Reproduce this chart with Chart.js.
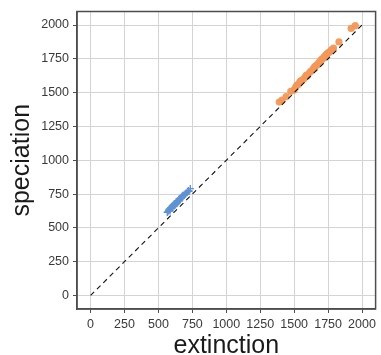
<!DOCTYPE html>
<html>
<head>
<meta charset="utf-8">
<script src="https://cdn.jsdelivr.net/npm/chart.js@4.4.0/dist/chart.umd.min.js"></script>
<style>
  html, body { margin: 0; padding: 0; background: #ffffff; }
  #wrap { width: 381px; height: 355px; }
</style>
</head>
<body>
<div id="wrap"><canvas id="grafico"></canvas></div>
<script>
// clado A (naranja): extincion / especiacion
let naranja_x = [1390, 1410, 1440, 1475, 1500, 1510, 1520, 1530, 1540, 1545, 1555, 1570, 1580, 1590, 1590, 1600,
    1615, 1625, 1640, 1650, 1650, 1660, 1670, 1680, 1690, 1700, 1700, 1710, 1720, 1730, 1735, 1740, 1750,
    1760, 1770, 1780, 1790, 1830, 1920, 1950]
let naranja_y = [1430, 1445, 1470, 1510, 1520, 1540, 1555, 1560, 1575, 1585, 1590, 1600, 1615, 1625, 1630, 1630,
    1650, 1660, 1675, 1690, 1680, 1700, 1705, 1720, 1730, 1745, 1740, 1750, 1765, 1770, 1780, 1785, 1795,
    1800, 1810, 1820, 1830, 1875, 1975, 1995]

// clado B (azul)
let azul_x = [565, 570, 575, 580, 585, 590, 595, 600, 605, 605, 615, 615, 620, 625, 630, 640, 640, 645,
    650, 655, 655, 660, 665, 670, 675, 680, 690, 690, 700, 700, 710, 720, 725, 735]
let azul_y = [615, 620, 630, 640, 625, 650, 645, 655, 665, 650, 675, 660, 680, 670, 690, 700, 685, 695,
    705, 715, 700, 710, 720, 730, 735, 740, 745, 740, 755, 750, 760, 775, 770, 790]

let marcas = [0, 250, 500, 750, 1000, 1250, 1500, 1750, 2000]
let diagonal = [0, 2000]

const juntar = (xs, ys) => xs.map((v, i) => ({x: v, y: ys[i]}))

// recuadro del panel (bordes superior y derecho incluidos)
const marco = {
    id: 'marco',
    afterDraw(chart) {
        const a = chart.chartArea
        const ctx = chart.ctx
        ctx.save()
        ctx.strokeStyle = '#4d4d4d'
        ctx.lineWidth = 1.5
        ctx.strokeRect(a.left, a.top, a.right - a.left, a.bottom - a.top)
        ctx.restore()
    }
}

function eje(titulo, ancho, relleno) {
    return {
        type: 'linear',
        min: -100,
        max: 2100,
        afterBuildTicks: (s) => { s.ticks = marcas.map(v => ({value: v})) },
        afterFit: ancho,
        grid: {
            color: '#d4d4d4',
            lineWidth: 1,
            drawTicks: true,
            tickLength: 4,
            tickColor: '#4d4d4d'
        },
        border: { display: true, color: '#4d4d4d', width: 1.5 },
        ticks: {
            color: '#3a3a3a',
            font: { family: 'Liberation Sans', size: 12.5 },
            padding: 4,
            maxRotation: 0,
            autoSkip: false,
            callback: (v) => String(v)
        },
        title: {
            display: true,
            text: titulo,
            color: '#1a1a1a',
            font: { family: 'Liberation Sans', size: 25 },
            padding: relleno
        }
    }
}

const configuracion = {
    type: 'scatter',
    data: {
        datasets: [
            {
                label: 'diagonal',
                data: juntar(diagonal, diagonal),
                showLine: true,
                borderColor: '#111111',
                borderWidth: 1.1,
                borderDash: [5, 4],
                pointRadius: 0,
                order: 0
            },
            {
                label: 'A',
                data: juntar(naranja_x, naranja_y),
                backgroundColor: 'rgba(242,152,88,0.95)',
                borderColor: 'rgba(242,152,88,0.95)',
                pointRadius: 3.6,
                borderWidth: 0,
                order: 2
            },
            {
                label: 'B',
                data: juntar(azul_x, azul_y),
                pointStyle: 'cross',
                borderColor: '#5f93d3',
                pointRadius: 3.6,
                borderWidth: 1.4,
                order: 1
            }
        ]
    },
    options: {
        responsive: true,
        maintainAspectRatio: false,
        animation: false,
        layout: { padding: { top: 7, right: 3, left: 0, bottom: 0 } },
        plugins: {
            legend: { display: false },
            tooltip: { enabled: false }
        },
        scales: {
            x: eje('extinction', (s) => { s.height = 46 }, { top: 0, bottom: -6 }),
            y: eje('speciation', (s) => { s.width = 77 }, { top: 7, bottom: 0 })
        }
    },
    plugins: [marco]
}

new Chart(document.getElementById('grafico').getContext('2d'), configuracion)
</script>
</body>
</html>
